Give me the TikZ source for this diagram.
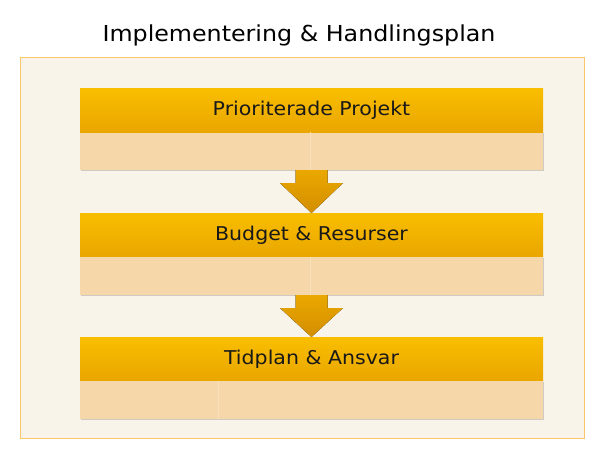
\documentclass[tikz,border=0pt]{standalone}
\usepackage{fontspec}
\setmainfont[FakeStretch=1.08]{DejaVu Sans}
\usetikzlibrary{positioning,calc,shadows}
\definecolor{framefill}{HTML}{F8F4EA}
\definecolor{frameline}{HTML}{F9C66A}
\definecolor{hdtop}{HTML}{F9BE00}
\definecolor{hdbot}{HTML}{E9A600}
\definecolor{bodyfill}{HTML}{F5D7A9}
\definecolor{bodyline}{HTML}{F8E0BC}
\definecolor{arrtop}{HTML}{EAA800}
\definecolor{arrbot}{HTML}{D38E00}
\tikzset{
  header/.style={minimum width=463pt, minimum height=44pt, inner sep=0pt, outer sep=0pt,
    top color=hdtop, bottom color=hdbot, text=black!90, font=\fontsize{19}{22}\selectfont},
  body/.style={minimum width=463pt, minimum height=38pt, inner sep=0pt, outer sep=0pt,
    fill=bodyfill, drop shadow={opacity=0.35, shadow xshift=0.6pt, shadow yshift=-1.2pt}},
  flowarrow/.style={top color=arrtop, bottom color=arrbot}
}
\begin{document}
\begin{tikzpicture}[x=1pt,y=-1pt]
\useasboundingbox (0,0) rectangle (611,448);
\draw [frameline, fill=framefill, line width=1pt] (20,57) rectangle (584,438);
\node (title) at (299,35) {\fontsize{22}{26}\selectfont Implementering \& Handlingsplan};
\node [body, anchor=north] (b1) at (311.5,132) {};
\node [header, anchor=south] (h1) at (b1.north) {Prioriterade Projekt};
\node [header, below=43pt of b1] (h2) {Budget \& Resurser};
\node [body, below=0pt of h2] (b2) {};
\node [header, below=42pt of b2] (h3) {Tidplan \& Ansvar};
\node [body, below=0pt of h3] (b3) {};
\draw [bodyline, line width=0.8pt] ($(b1.north west)+(230,0)$) -- ($(b1.south west)+(230,0)$);
\draw [bodyline, line width=0.8pt] ($(b2.north west)+(230,0)$) -- ($(b2.south west)+(230,0)$);
\draw [bodyline, line width=0.8pt] ($(b3.north west)+(138,0)$) -- ($(b3.south west)+(138,0)$);
\foreach \from/\to in {b1/h2, b2/h3}
  \fill [flowarrow] ($(\from.south)+(-16,0)$) -- ($(\from.south)+(16,0)$)
    -- ($(\from.south)+(16,13)$) -- ($(\from.south)+(31.5,13)$) -- (\to.north)
    -- ($(\from.south)+(-31.5,13)$) -- ($(\from.south)+(-16,13)$) -- cycle;
\end{tikzpicture}
\end{document}
